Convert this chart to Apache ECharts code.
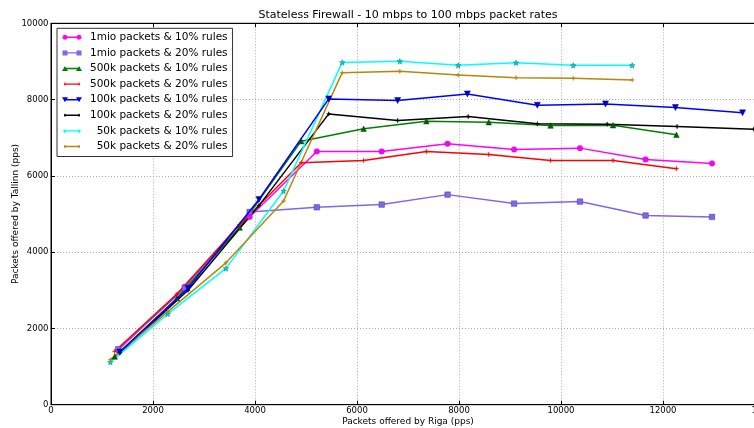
<!DOCTYPE html>
<html><head><meta charset="utf-8">
<script src="https://cdn.jsdelivr.net/npm/echarts@6/dist/echarts.min.js"></script>
<style>html,body{margin:0;padding:0;background:#fff}#c{width:754px;height:428px}</style>
</head><body><div id="c"></div>
<script>
// ---- data ----
const seriesNames = [
  '1mio packets & 10% rules', '1mio packets & 20% rules',
  '500k packets & 10% rules', '500k packets & 20% rules',
  '100k packets & 10% rules', '100k packets & 20% rules',
  '  50k packets & 10% rules', '  50k packets & 20% rules'
];
const x1mio = [1317, 2622, 3894, 5212, 6484, 7776, 9080, 10372, 11658, 12961];
const y1mio10 = [1430, 3090, 4923, 6641, 6641, 6841, 6693, 6727, 6431, 6327];
const y1mio20 = [1456, 3051, 5053, 5176, 5247, 5508, 5273, 5325, 4960, 4923];
const x500k = [1250, 2470, 3699, 4906, 6130, 7360, 8584, 9795, 11020, 12264];
const y500k10 = [1263, 2790, 4646, 6910, 7233, 7434, 7407, 7320, 7328, 7077];
const y500k20 = [1400, 2900, 4720, 6345, 6405, 6641, 6562, 6405, 6405, 6188];
const x100k10 = [1350, 2687, 4077, 5446, 6797, 8164, 9536, 10873, 12244, 13560];
const y100k10 = [1380, 3051, 5380, 8018, 7974, 8149, 7851, 7887, 7791, 7652];
const x100k20 = [1350, 2687, 4077, 5446, 6797, 8180, 9536, 10906, 12276, 13780];
const y100k20 = [1360, 3000, 5220, 7625, 7451, 7556, 7365, 7355, 7294, 7224];
const x50k = [1165, 2290, 3430, 4560, 5710, 6840, 7984, 9119, 10240, 11396];
const y50k10 = [1116, 2380, 3573, 5603, 8975, 9002, 8897, 8967, 8897, 8897];
const y50k20 = [1180, 2440, 3720, 5340, 8706, 8740, 8645, 8575, 8557, 8515];
const xTicks = [0, 2000, 4000, 6000, 8000, 10000, 12000, 14000];
const yTicks = [0, 2000, 4000, 6000, 8000, 10000];

// ---- symbols ----
function starPath(cx, cy, R, r) {
  let s = '';
  for (let i = 0; i < 10; i++) {
    const a = (-90 + i * 36) * Math.PI / 180;
    const rad = i % 2 ? r : R;
    s += (i ? 'L' : 'M') + (cx + rad * Math.cos(a)).toFixed(2) + ',' + (cy + rad * Math.sin(a)).toFixed(2);
  }
  return s + 'Z';
}
function circlePath(cx, cy, r) {
  let s = '';
  for (let i = 0; i < 16; i++) {
    const a = i * Math.PI / 8;
    s += (i ? 'L' : 'M') + (cx + r * Math.cos(a)).toFixed(2) + ',' + (cy + r * Math.sin(a)).toFixed(2);
  }
  return s + 'Z';
}
const plusSym = 'path://M4.4,0L5.6,0L5.6,4.4L10,4.4L10,5.6L5.6,5.6L5.6,10L4.4,10L4.4,5.6L0,5.6L0,4.4L4.4,4.4Z';
const corners = 'M0,0Z M20,6Z';
const lineBar = 'M2,2.3L18,2.3L18,3.7L2,3.7Z';
const tickEnds = 'M2.5,1.5L3.5,1.5L3.5,4.5L2.5,4.5Z M16.5,1.5L17.5,1.5L17.5,4.5L16.5,4.5Z';
const icons = [
  'path://' + corners + ' ' + lineBar + ' ' + circlePath(3, 3, 2.5) + ' ' + circlePath(17, 3, 2.5),
  'path://' + corners + ' ' + lineBar + ' M0.5,0.5L5.5,0.5L5.5,5.5L0.5,5.5Z M14.5,0.5L19.5,0.5L19.5,5.5L14.5,5.5Z',
  'path://' + corners + ' ' + lineBar + ' M0,5.5L3,0.5L6,5.5Z M14,5.5L17,0.5L20,5.5Z',
  'path://' + corners + ' ' + lineBar + ' ' + tickEnds,
  'path://' + corners + ' ' + lineBar + ' M0,0.5L6,0.5L3,5.5Z M14,0.5L20,0.5L17,5.5Z',
  'path://' + corners + ' ' + lineBar + ' ' + tickEnds,
  'path://' + corners + ' ' + lineBar + ' ' + starPath(3, 3.2, 2.6, 1.1) + ' ' + starPath(17, 3.2, 2.6, 1.1),
  'path://' + corners + ' ' + lineBar + ' ' + tickEnds
];
const colors = ['#ff00ff', '#7b68ee', '#008000', '#ff0000', '#0000ff', '#000000', '#00ffff', '#b8860b'];

function pairs(xs, ys) { return xs.map((x, i) => [x, ys[i]]); }
const seriesDefs = [
  { data: pairs(x1mio, y1mio10), symbol: 'circle', size: 5.5, marker: '#ff00ff', border: '#c000c0' },
  { data: pairs(x1mio, y1mio20), symbol: 'rect', size: 5.5, marker: '#7b68ee', border: '#483d8b' },
  { data: pairs(x500k, y500k10), symbol: 'triangle', size: 5.5, marker: '#006400', border: '#004000' },
  { data: pairs(x500k, y500k20), symbol: plusSym, size: 4, marker: '#ff0000', border: '#ff0000' },
  { data: pairs(x100k10, y100k10), symbol: 'triangle', rotate: 180, size: 6, marker: '#0000cc', border: '#000080' },
  { data: pairs(x100k20, y100k20), symbol: plusSym, size: 4, marker: '#000000', border: '#000000' },
  { data: pairs(x50k, y50k10), symbol: 'path://' + starPath(5, 5, 5, 2.1), size: 5.5, marker: '#00d0d0', border: '#008080' },
  { data: pairs(x50k, y50k20), symbol: plusSym, size: 4, marker: '#b8860b', border: '#b8860b' }
];

const font = 'DejaVu Sans';
const series = seriesDefs.map((d, i) => ({
  name: seriesNames[i],
  type: 'line',
  data: d.data,
  symbol: d.symbol,
  symbolSize: d.size,
  symbolRotate: d.rotate || 0,
  showAllSymbol: true,
  animation: false,
  z: 2 + (i === 4 ? 1 : 0),
  lineStyle: { color: colors[i], width: 1.5 },
  itemStyle: { color: d.marker, borderColor: d.border, borderWidth: 0.5 },
  emphasis: { disabled: true }
}));

const plainNum = v => String(v);
const chart = echarts.init(document.getElementById('c'), null, { renderer: 'canvas' });
chart.setOption({
  backgroundColor: '#ffffff',
  animation: false,
  textStyle: { fontFamily: font },
  title: {
    text: 'Stateless Firewall - 10 mbps to 100 mbps packet rates',
    left: 408, top: 9.5, textAlign: 'center', padding: 0,
    textStyle: { fontFamily: font, fontSize: 11, fontWeight: 'normal', color: '#000' }
  },
  grid: { left: 51, top: 23.3, width: 714, bottom: 23.3, show: true, borderColor: '#000', borderWidth: 1, containLabel: false, outerBoundsMode: 'none' },
  legend: {
    orient: 'vertical', left: 57, top: 28.3,
    padding: [2.5, 5, 3.5, 5],
    itemGap: 2.6, itemWidth: 20, itemHeight: 6,
    backgroundColor: '#fff', borderColor: '#333', borderWidth: 1,
    selectedMode: false,
    textStyle: { fontFamily: font, fontSize: 10.5, lineHeight: 13, color: '#000', padding: [0, 0, 0, 3] },
    data: seriesNames.map((n, i) => ({ name: n, icon: icons[i], itemStyle: { color: colors[i], borderWidth: 0 } }))
  },
  xAxis: [{
    type: 'value', min: xTicks[0], max: xTicks[xTicks.length - 1], interval: 2000,
    name: 'Packets offered by Riga (pps)', nameLocation: 'middle', nameGap: 12, nameMoveOverlap: false,
    nameTextStyle: { fontFamily: font, fontSize: 9, color: '#000' },
    axisLine: { show: true, lineStyle: { color: '#000', width: 1 } },
    axisTick: { show: true, inside: true, length: 4, lineStyle: { color: '#000' } },
    axisLabel: { fontFamily: font, fontSize: 8.5, color: '#000', margin: 2, formatter: plainNum },
    splitLine: { show: true, lineStyle: { color: '#aaaaaa', type: [1, 2], width: 1 } }
  }, {
    type: 'value', position: 'top', min: xTicks[0], max: xTicks[xTicks.length - 1], interval: 2000,
    axisLine: { show: true, lineStyle: { color: '#000', width: 1 } },
    axisTick: { show: true, inside: true, length: 4, lineStyle: { color: '#000' } },
    axisLabel: { show: false }, splitLine: { show: false }
  }],
  yAxis: [{
    type: 'value', min: yTicks[0], max: yTicks[yTicks.length - 1], interval: 2000,
    name: 'Packets offered by Tallinn (pps)', nameLocation: 'middle', nameGap: 31, nameMoveOverlap: false,
    nameTextStyle: { fontFamily: font, fontSize: 9, color: '#000' },
    axisLine: { show: true, lineStyle: { color: '#000', width: 1 } },
    axisTick: { show: true, inside: true, length: 4, lineStyle: { color: '#000' } },
    axisLabel: { fontFamily: font, fontSize: 8.5, color: '#000', margin: 2.5, formatter: plainNum },
    splitLine: { show: true, lineStyle: { color: '#aaaaaa', type: [1, 2], width: 1 } }
  }],
  series: series
});
</script>
</body></html>
